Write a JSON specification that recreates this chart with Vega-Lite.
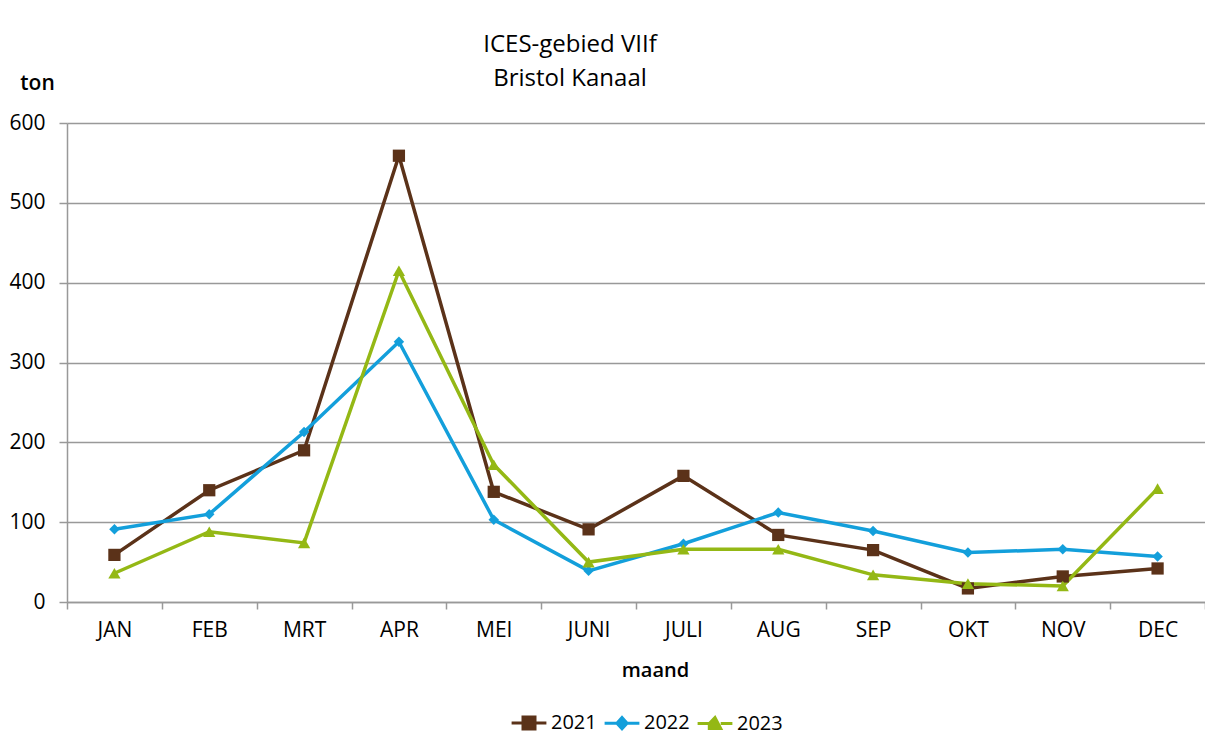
{
  "$schema": "https://vega.github.io/schema/vega-lite/v6.json",
  "width": 1138,
  "height": 479,
  "autosize": {"type": "none"},
  "padding": {"left": 67, "top": 123, "right": 0, "bottom": 138},
  "background": "white",
  "title": {
    "text": ["ICES-gebied VIIf", "Bristol Kanaal"],
    "font": "Open Sans",
    "fontSize": 24,
    "fontWeight": "normal",
    "color": "#000000",
    "lineHeight": 34,
    "anchor": "middle",
    "dx": -66,
    "dy": 53,
    "offset": 34
  },
  "data": {
    "values": [
      {"maand": "JAN", "jaar": "2021", "ton": 59},
      {"maand": "FEB", "jaar": "2021", "ton": 140},
      {"maand": "MRT", "jaar": "2021", "ton": 190},
      {"maand": "APR", "jaar": "2021", "ton": 559},
      {"maand": "MEI", "jaar": "2021", "ton": 138},
      {"maand": "JUNI", "jaar": "2021", "ton": 91},
      {"maand": "JULI", "jaar": "2021", "ton": 158},
      {"maand": "AUG", "jaar": "2021", "ton": 84},
      {"maand": "SEP", "jaar": "2021", "ton": 65},
      {"maand": "OKT", "jaar": "2021", "ton": 17},
      {"maand": "NOV", "jaar": "2021", "ton": 32},
      {"maand": "DEC", "jaar": "2021", "ton": 42},
      {"maand": "JAN", "jaar": "2022", "ton": 91},
      {"maand": "FEB", "jaar": "2022", "ton": 110},
      {"maand": "MRT", "jaar": "2022", "ton": 213},
      {"maand": "APR", "jaar": "2022", "ton": 326},
      {"maand": "MEI", "jaar": "2022", "ton": 103},
      {"maand": "JUNI", "jaar": "2022", "ton": 39},
      {"maand": "JULI", "jaar": "2022", "ton": 73},
      {"maand": "AUG", "jaar": "2022", "ton": 112},
      {"maand": "SEP", "jaar": "2022", "ton": 89},
      {"maand": "OKT", "jaar": "2022", "ton": 62},
      {"maand": "NOV", "jaar": "2022", "ton": 66},
      {"maand": "DEC", "jaar": "2022", "ton": 57},
      {"maand": "JAN", "jaar": "2023", "ton": 36},
      {"maand": "FEB", "jaar": "2023", "ton": 88},
      {"maand": "MRT", "jaar": "2023", "ton": 74},
      {"maand": "APR", "jaar": "2023", "ton": 415},
      {"maand": "MEI", "jaar": "2023", "ton": 172},
      {"maand": "JUNI", "jaar": "2023", "ton": 50},
      {"maand": "JULI", "jaar": "2023", "ton": 66},
      {"maand": "AUG", "jaar": "2023", "ton": 66},
      {"maand": "SEP", "jaar": "2023", "ton": 34},
      {"maand": "OKT", "jaar": "2023", "ton": 23},
      {"maand": "NOV", "jaar": "2023", "ton": 20},
      {"maand": "DEC", "jaar": "2023", "ton": 142}
    ]
  },
  "encoding": {
    "x": {
      "field": "maand",
      "type": "nominal",
      "sort": ["JAN", "FEB", "MRT", "APR", "MEI", "JUNI", "JULI", "AUG", "SEP", "OKT", "NOV", "DEC"],
      "scale": {"type": "band", "paddingInner": 0, "paddingOuter": 0},
      "axis": {
        "title": "maand",
        "titleFont": "Open Sans",
        "titleFontSize": 20,
        "titleFontWeight": 600,
        "titleColor": "#000000",
        "titlePadding": 20,
        "titleX": 588,
        "labelAngle": 0,
        "labelFont": "Open Sans",
        "labelFontSize": 21,
        "labelColor": "#000000",
        "labelPadding": 10,
        "tickBand": "extent",
        "tickSize": 7,
        "tickColor": "#999999",
        "tickWidth": 1.5,
        "domainColor": "#999999",
        "domainWidth": 1.5,
        "grid": false
      }
    },
    "y": {
      "field": "ton",
      "type": "quantitative",
      "scale": {"domain": [0, 600], "nice": false},
      "axis": {
        "title": "ton",
        "titleAngle": 0,
        "titleX": -30,
        "titleY": -40,
        "titleAlign": "center",
        "titleBaseline": "middle",
        "titleFont": "Open Sans",
        "titleFontSize": 21,
        "titleFontWeight": 600,
        "titleColor": "#000000",
        "values": [0, 100, 200, 300, 400, 500, 600],
        "labelFont": "Open Sans",
        "labelFontSize": 21,
        "labelColor": "#000000",
        "labelPadding": 14,
        "tickSize": 8,
        "tickColor": "#999999",
        "tickWidth": 1.5,
        "domainColor": "#999999",
        "domainWidth": 1.5,
        "grid": true,
        "gridColor": "#999999",
        "gridWidth": 1.5
      }
    },
    "color": {
      "field": "jaar",
      "type": "nominal",
      "scale": {"domain": ["2021", "2022", "2023"], "range": ["#5b3219", "#139fdb", "#94b815"]},
      "legend": {
        "title": null,
        "orient": "none",
        "direction": "horizontal",
        "legendX": 452,
        "legendY": 590,
        "labelFont": "Open Sans",
        "labelFontSize": 20,
        "labelColor": "#000000",
        "labelOffset": 12,
        "columnPadding": 1,
        "symbolSize": 144,
        "symbolStrokeWidth": 3,
        "encode": {
          "symbols": {
            "enter": {
              "shape": {"signal": "datum.value == '2021' ? 'M-2.9,0H-1V-1H1V1H-1V0M1,0H2.9' : datum.value == '2022' ? 'M-2.9,0H-0.85L0,-0.95L0.85,0L0,0.95L-0.85,0M0.85,0H2.9' : 'M-2.9,0H-0.95L0,-1L0.95,0.8L-0.95,0.8L-0.95,0M0.95,0H2.9'"}
            },
            "update": {
              "shape": {"signal": "datum.value == '2021' ? 'M-2.9,0H-1V-1H1V1H-1V0M1,0H2.9' : datum.value == '2022' ? 'M-2.9,0H-0.85L0,-0.95L0.85,0L0,0.95L-0.85,0M0.85,0H2.9' : 'M-2.9,0H-0.95L0,-1L0.95,0.8L-0.95,0.8L-0.95,0M0.95,0H2.9'"},
              "size": {"value": 144},
              "fill": {"signal": "scale('color', datum.value)"},
              "stroke": {"signal": "scale('color', datum.value)"},
              "strokeWidth": {"value": 3},
              "opacity": {"value": 1}
            }
          }
        }
      }
    }
  },
  "layer": [
    {
      "mark": {"type": "line", "strokeWidth": 3.5}
    },
    {
      "transform": [{"filter": "datum.jaar == '2021'"}],
      "mark": {"type": "point", "filled": true, "opacity": 1, "shape": "square", "size": 150}
    },
    {
      "transform": [{"filter": "datum.jaar == '2022'"}],
      "mark": {"type": "point", "filled": true, "opacity": 1, "shape": "diamond", "size": 110}
    },
    {
      "transform": [{"filter": "datum.jaar == '2023'"}],
      "mark": {"type": "point", "filled": true, "opacity": 1, "shape": "triangle-up", "size": 150}
    }
  ],
  "config": {
    "view": {"stroke": null}
  }
}
